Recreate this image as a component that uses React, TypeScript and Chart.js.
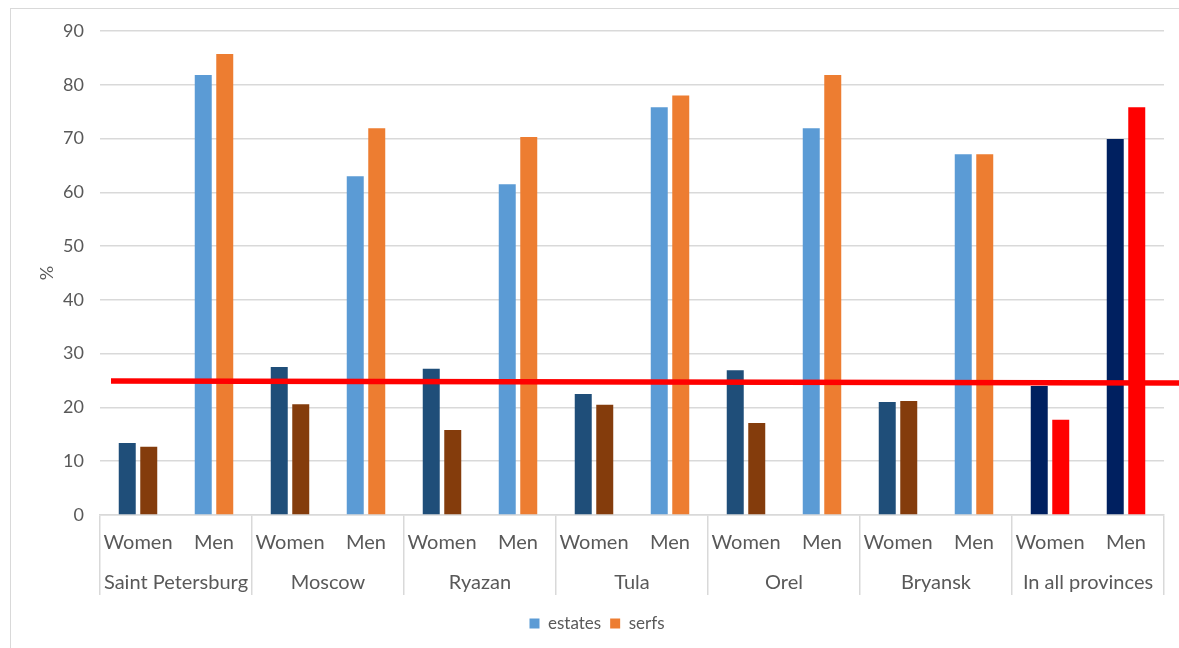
import React, { useEffect, useRef } from "react";
import { Chart, registerables } from "chart.js";

Chart.register(...registerables);

const provinces = ["Saint Petersburg", "Moscow", "Ryazan", "Tula", "Orel", "Bryansk", "In all provinces"];
const genders = ["Women", "Men"];
const categoryLabels = provinces.flatMap(() => genders);

const estates = [13.4, 81.8, 27.5, 63.0, 27.2, 61.5, 22.5, 75.8, 26.9, 71.9, 21.0, 67.1, 24.0, 69.9];
const serfs = [12.7, 85.7, 20.6, 71.9, 15.8, 70.3, 20.5, 78.0, 17.1, 81.8, 21.2, 67.1, 17.7, 75.8];

const estatesColors = ["#1F4E79", "#5B9BD5", "#1F4E79", "#5B9BD5", "#1F4E79", "#5B9BD5", "#1F4E79", "#5B9BD5", "#1F4E79", "#5B9BD5", "#1F4E79", "#5B9BD5", "#002060", "#002060"];
const serfsColors = ["#843C0C", "#ED7D31", "#843C0C", "#ED7D31", "#843C0C", "#ED7D31", "#843C0C", "#ED7D31", "#843C0C", "#ED7D31", "#843C0C", "#ED7D31", "#FF0000", "#FF0000"];
const legendColors = ["#5B9BD5", "#ED7D31"];

const yTicks = [0, 10, 20, 30, 40, 50, 60, 70, 80, 90];
const redLineValues = [24.9, 24.55];

const FONT = "Lato, 'Open Sans', sans-serif";
const TEXT = "#595959";
const GRID = "#d9d9d9";

const redLinePlugin = {
  id: "redLine",
  afterDatasetsDraw(chart: any) {
    const y = chart.scales.y;
    const ctx = chart.ctx;
    const x0 = chart.chartArea.left + 11;
    const x1 = chart.width;
    ctx.save();
    ctx.strokeStyle = "#FF0000";
    ctx.lineWidth = 5.5;
    ctx.beginPath();
    ctx.moveTo(x0, y.getPixelForValue(redLineValues[0]));
    ctx.lineTo(x1, y.getPixelForValue(redLineValues[1]));
    ctx.stroke();
    ctx.restore();
  },
};

export default function App() {
  const ref = useRef<HTMLCanvasElement>(null);

  useEffect(() => {
    if (!ref.current) return;
    const chart = new Chart(ref.current, {
      type: "bar",
      data: {
        labels: categoryLabels,
        datasets: [
          {
            label: "estates",
            data: estates,
            backgroundColor: estatesColors,
            categoryPercentage: 0.566,
            barPercentage: 0.79,
            xAxisID: "x",
          },
          {
            label: "serfs",
            data: serfs,
            backgroundColor: serfsColors,
            categoryPercentage: 0.566,
            barPercentage: 0.79,
            xAxisID: "x",
          },
        ],
      },
      plugins: [redLinePlugin],
      options: {
        animation: false,
        responsive: false,
        maintainAspectRatio: false,
        layout: { padding: { left: 30, right: 15, top: 31, bottom: 6 } },
        plugins: {
          tooltip: { enabled: false },
          legend: {
            position: "bottom",
            labels: {
              boxWidth: 10,
              boxHeight: 10,
              color: TEXT,
              font: { family: FONT, size: 17 },
              padding: 9,
              generateLabels(chart: any) {
                const items = Chart.defaults.plugins.legend.labels.generateLabels(chart);
                items.forEach((it: any, i: number) => {
                  it.fillStyle = legendColors[i];
                  it.strokeStyle = legendColors[i];
                  it.lineWidth = 0;
                });
                return items;
              },
            },
          },
        },
        scales: {
          x: {
            type: "category",
            position: "bottom",
            offset: true,
            grid: {
              offset: true,
              drawOnChartArea: false,
              drawTicks: true,
              tickLength: 80,
              lineWidth: 1.5,
              color: (c: any) =>
                c.index === undefined || c.index % 2 === 0 ? GRID : "rgba(0,0,0,0)",
            },
            border: { display: true, color: GRID, width: 1.5 },
            ticks: {
              color: TEXT,
              font: { family: FONT, size: 20 },
              padding: -64,
              maxRotation: 0,
              autoSkip: false,
            },
            afterFit(scale: any) {
              scale.height = 40;
            },
          },
          x2: {
            type: "category",
            position: "bottom",
            labels: provinces,
            offset: true,
            grid: { display: false, drawTicks: false },
            border: { display: false },
            ticks: {
              color: TEXT,
              font: { family: FONT, size: 20 },
              padding: 16,
              maxRotation: 0,
              autoSkip: false,
            },
            afterFit(scale: any) {
              scale.height = 51;
            },
          },
          y: {
            min: 0,
            max: 90,
            afterBuildTicks(scale: any) {
              scale.ticks = yTicks.map((v) => ({ value: v }));
            },
            grid: { color: GRID, lineWidth: 1.5, drawTicks: false },
            border: { display: false },
            ticks: {
              color: TEXT,
              font: { family: FONT, size: 18 },
              padding: 16,
            },
            title: {
              display: true,
              text: "%",
              color: TEXT,
              font: { family: FONT, size: 18 },
              padding: { top: 6, bottom: 0 },
            },
            afterFit(scale: any) {
              scale.width = 70;
            },
          },
        },
      },
    } as any);
    return () => chart.destroy();
  }, []);

  return (
    <>
      <div
        style={{
          position: "fixed",
          left: 10,
          top: 8,
          width: 1300,
          height: 800,
          borderLeft: "1.5px solid #d9d9d9",
          borderTop: "1.5px solid #d9d9d9",
          boxSizing: "border-box",
        }}
      />
      <div style={{ position: "fixed", left: 0, top: 0, width: 1179, height: 648 }}>
        <canvas ref={ref} width={1179} height={648} style={{ width: 1179, height: 648, display: "block" }} />
      </div>
    </>
  );
}
